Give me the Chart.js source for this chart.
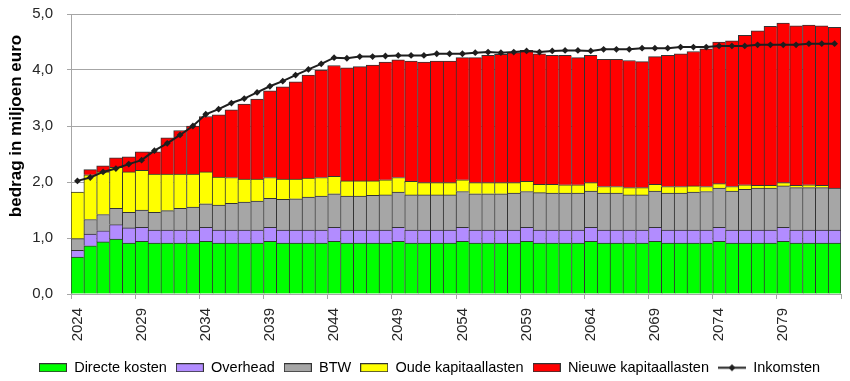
<!DOCTYPE html>
<html>
<head>
<meta charset="utf-8">
<script src="https://cdn.jsdelivr.net/npm/chart.js@4/dist/chart.umd.min.js"></script>
<style>
  html, body { margin: 0; padding: 0; background: #fff; }
  #wrap { width: 850px; height: 381px; }
</style>
</head>
<body>
<div id="wrap"><canvas id="c" width="850" height="381"></canvas></div>
<script>
const years = ['2024','2025','2026','2027','2028','2029','2030','2031','2032','2033',
  '2034','2035','2036','2037','2038','2039','2040','2041','2042','2043',
  '2044','2045','2046','2047','2048','2049','2050','2051','2052','2053',
  '2054','2055','2056','2057','2058','2059','2060','2061','2062','2063',
  '2064','2065','2066','2067','2068','2069','2070','2071','2072','2073',
  '2074','2075','2076','2077','2078','2079','2080','2081','2082','2083'];

const xTickLabels = ['2024','2029','2034','2039','2044','2049','2054','2059','2064','2069','2074','2079'];
const yTickValues = [0, 1, 2, 3, 4, 5];

const directeKosten = [0.66,0.86,0.93,0.98,0.91,0.94,0.91,0.91,0.91,0.91,
  0.94,0.91,0.91,0.91,0.91,0.94,0.91,0.91,0.91,0.91,
  0.94,0.91,0.91,0.91,0.91,0.94,0.91,0.91,0.91,0.91,
  0.94,0.91,0.91,0.91,0.91,0.94,0.91,0.91,0.91,0.91,
  0.94,0.91,0.91,0.91,0.91,0.94,0.91,0.91,0.91,0.91,
  0.94,0.91,0.91,0.91,0.91,0.94,0.91,0.91,0.91,0.91];

const overhead = [0.12,0.21,0.20,0.26,0.27,0.25,0.23,0.23,0.23,0.23,
  0.25,0.23,0.23,0.23,0.23,0.25,0.23,0.23,0.23,0.23,
  0.25,0.23,0.23,0.23,0.23,0.25,0.23,0.23,0.23,0.23,
  0.25,0.23,0.23,0.23,0.23,0.25,0.23,0.23,0.23,0.23,
  0.25,0.23,0.23,0.23,0.23,0.25,0.23,0.23,0.23,0.23,
  0.25,0.23,0.23,0.23,0.23,0.25,0.23,0.23,0.23,0.23];

const btw = [0.21,0.26,0.29,0.29,0.28,0.31,0.32,0.35,0.39,0.41,
  0.42,0.45,0.48,0.50,0.52,0.52,0.55,0.56,0.59,0.61,
  0.60,0.61,0.61,0.62,0.63,0.63,0.63,0.63,0.63,0.63,
  0.64,0.65,0.65,0.65,0.66,0.64,0.67,0.66,0.66,0.66,
  0.65,0.66,0.66,0.63,0.63,0.65,0.66,0.66,0.68,0.69,
  0.70,0.70,0.73,0.75,0.75,0.74,0.76,0.76,0.76,0.75];

const oudeKapitaallasten = [0.83,0.80,0.76,0.73,0.72,0.71,0.68,0.65,0.61,0.59,
  0.57,0.50,0.46,0.41,0.39,0.37,0.36,0.35,0.34,0.33,
  0.31,0.27,0.27,0.26,0.27,0.26,0.24,0.22,0.22,0.22,
  0.21,0.20,0.20,0.20,0.19,0.18,0.15,0.16,0.15,0.15,
  0.15,0.12,0.12,0.13,0.13,0.12,0.12,0.12,0.11,0.09,
  0.08,0.08,0.08,0.05,0.05,0.06,0.04,0.05,0.04,0.00];

const nieuweKapitaallasten = [0.00,0.09,0.11,0.17,0.27,0.33,0.40,0.65,0.78,0.86,
  0.99,1.11,1.21,1.34,1.43,1.55,1.65,1.74,1.84,1.92,
  1.98,2.02,2.04,2.07,2.10,2.10,2.15,2.15,2.17,2.17,
  2.18,2.23,2.27,2.29,2.32,2.34,2.33,2.30,2.31,2.27,
  2.27,2.27,2.27,2.27,2.25,2.28,2.34,2.37,2.40,2.46,
  2.53,2.60,2.67,2.76,2.84,2.85,2.85,2.85,2.85,2.87];

const inkomsten = [2.02,2.08,2.18,2.24,2.32,2.39,2.56,2.69,2.84,3.00,
  3.21,3.30,3.41,3.49,3.60,3.71,3.80,3.91,4.01,4.11,
  4.22,4.21,4.24,4.24,4.25,4.26,4.26,4.26,4.29,4.29,
  4.29,4.31,4.32,4.31,4.32,4.34,4.32,4.34,4.35,4.35,
  4.34,4.37,4.37,4.37,4.39,4.39,4.39,4.41,4.41,4.41,
  4.43,4.43,4.43,4.45,4.45,4.45,4.45,4.47,4.47,4.47];

const FONT = "'Liberation Sans', Arial, Helvetica, sans-serif";
Chart.defaults.font.family = FONT;
Chart.defaults.color = '#262626';

const GRID = '#A6A6A6';
const BORDER = '#333333';

function boxImg(fill) {
  const c = document.createElement('canvas');
  c.width = 28; c.height = 9;
  const g = c.getContext('2d');
  g.fillStyle = BORDER; g.fillRect(0, 0, 28, 9);
  g.fillStyle = fill; g.fillRect(1, 1, 26, 7);
  return c;
}
function lineImg(color) {
  const c = document.createElement('canvas');
  c.width = 28; c.height = 9;
  const g = c.getContext('2d');
  g.strokeStyle = color; g.lineWidth = 2;
  g.beginPath(); g.moveTo(0, 4.5); g.lineTo(28, 4.5); g.stroke();
  g.fillStyle = color;
  g.beginPath(); g.moveTo(14, 1); g.lineTo(17.5, 4.5); g.lineTo(14, 8); g.lineTo(10.5, 4.5); g.closePath(); g.fill();
  return c;
}

function barBorder(ctx) {
  return { top: 1, left: 1, right: ctx.dataIndex === years.length - 1 ? 1 : 0, bottom: 0 };
}

function barSet(label, data, color) {
  return {
    type: 'bar', label, data,
    backgroundColor: color, borderColor: BORDER,
    borderWidth: barBorder, borderSkipped: false,
    barPercentage: 1, categoryPercentage: 1,
    stack: 's', order: 1,
    _legendImg: boxImg(color)
  };
}

const datasets = [
  barSet('Directe kosten', directeKosten, '#00FF00'),
  barSet('Overhead', overhead, '#B28CFF'),
  barSet('BTW', btw, '#A6A6A6'),
  barSet('Oude kapitaallasten', oudeKapitaallasten, '#FFFF00'),
  barSet('Nieuwe kapitaallasten', nieuweKapitaallasten, '#FF0000'),
  {
    type: 'line', label: 'Inkomsten', data: inkomsten,
    borderColor: '#1E1E1E', backgroundColor: '#1E1E1E',
    borderWidth: 2, tension: 0,
    pointStyle: 'rectRot', pointRadius: 3.4, pointBorderWidth: 0,
    pointBackgroundColor: '#1E1E1E',
    order: 0,
    _legendImg: lineImg('#1E1E1E')
  }
];

const TITLE_SHIFT = 28;
const titleShiftPlugin = {
  id: 'titleShift',
  afterLayout(chart) {
    const s = chart.scales.y;
    if (s && !s._titleShifted) {
      const proto = Object.getPrototypeOf(s);
      s.drawTitle = function () {
        const t = this.top, b = this.bottom;
        this.top = t - TITLE_SHIFT; this.bottom = b - TITLE_SHIFT;
        proto.drawTitle.call(this);
        this.top = t; this.bottom = b;
      };
      s._titleShifted = true;
    }
  }
};

new Chart(document.getElementById('c'), {
  data: { labels: years, datasets },
  options: {
    responsive: false,
    animation: false,
    devicePixelRatio: 1,
    layout: { padding: { left: 18, right: 9, top: 14, bottom: -4 } },
    plugins: {
      tooltip: { enabled: false },
      legend: {
        position: 'bottom',
        labels: {
          usePointStyle: true,
          pointStyleWidth: 28,
          boxWidth: 28,
          boxHeight: 9,
          padding: 9,
          color: '#1a1a1a',
          font: { size: 14.5, family: FONT },
          generateLabels(chart) {
            return chart.data.datasets.map((ds, i) => ({
              text: ds.label,
              pointStyle: ds._legendImg,
              fillStyle: ds.backgroundColor,
              strokeStyle: BORDER,
              lineWidth: 0,
              hidden: false,
              datasetIndex: i
            }));
          }
        }
      }
    },
    scales: {
      x: {
        stacked: true,
        offset: true,
        afterFit(scale) { scale.height = 57.5; scale.paddingLeft = 0; scale.paddingRight = 0; },
        grid: {
          offset: true,
          drawOnChartArea: false,
          drawTicks: true,
          tickLength: 5,
          color(ctx) {
            if (ctx.index === undefined) return GRID;
            return xTickLabels.includes(years[ctx.index]) ? GRID : 'rgba(0,0,0,0)';
          }
        },
        border: { display: true, color: GRID, width: 1 },
        ticks: {
          autoSkip: false,
          minRotation: 90,
          maxRotation: 90,
          padding: 9,
          color: '#262626',
          font: { size: 15, family: FONT },
          callback(val, idx) {
            const lab = years[idx];
            return xTickLabels.includes(lab) ? lab : '';
          }
        }
      },
      y: {
        stacked: true,
        min: 0,
        max: 5,
        afterFit(scale) { scale.width = 53; scale.paddingTop = 0; scale.paddingBottom = 0; },
        afterBuildTicks(scale) { scale.ticks = yTickValues.map(v => ({ value: v })); },
        grid: { color: GRID, lineWidth: 1, drawTicks: true, tickLength: 4 },
        border: { display: true, color: GRID, width: 1 },
        ticks: {
          padding: 14,
          color: '#262626',
          font: { size: 15, family: FONT },
          callback(v) { return v.toFixed(1).replace('.', ','); }
        },
        title: {
          display: true,
          text: 'bedrag in miljoen euro',
          color: '#000',
          font: { size: 17, weight: 'bold', family: FONT },
          padding: { top: -11.5, bottom: 0 }
        }
      }
    }
  },
  plugins: [titleShiftPlugin]
});
</script>
</body>
</html>
